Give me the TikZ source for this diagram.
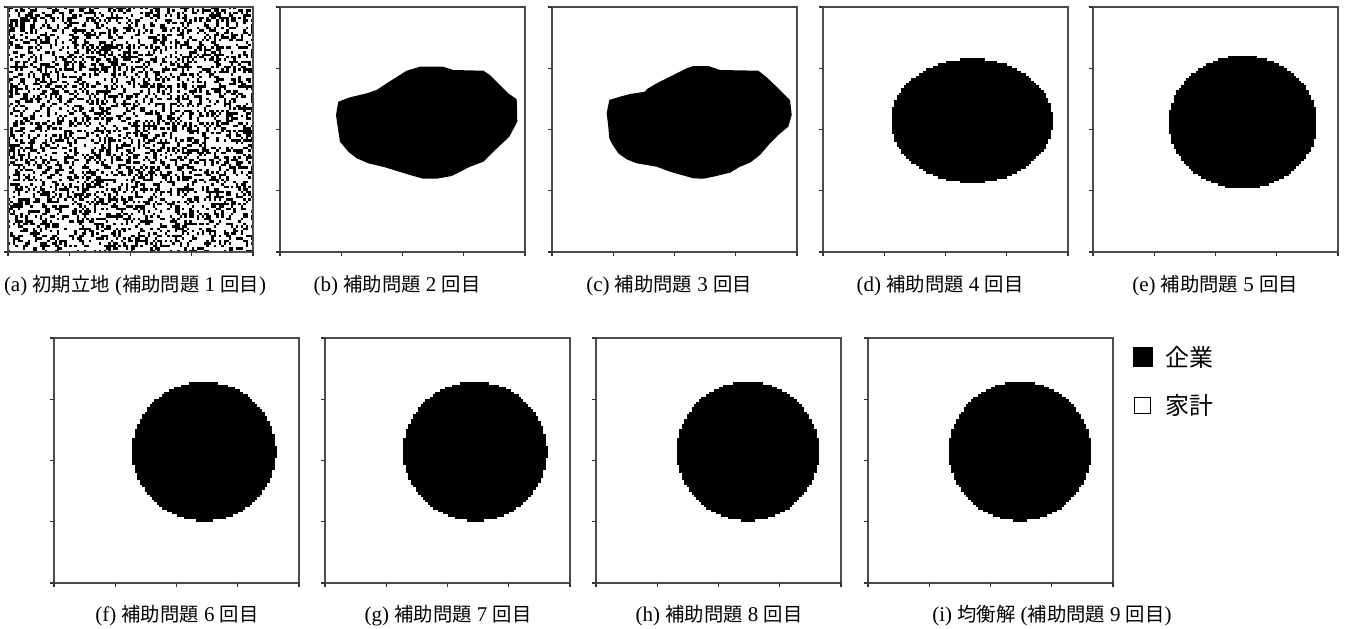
\documentclass[tikz,border=0pt]{standalone}
\usepackage{fontspec}
\setmainfont{Liberation Serif}
\newfontfamily\jp{Noto Sans CJK JP}[Scale=0.92]
\usetikzlibrary{positioning}

\begin{document}
\begin{tikzpicture}[x=0.5pt, y=-0.5pt,
      frm/.style={draw=black!70, line width=0.6pt},
      tck/.style={draw=black!80, line width=0.7pt},
      captext/.style={font=\fontsize{10.5}{12}\selectfont, inner sep=0pt, anchor=base},
      keybox/.style={draw=black, line width=0.4pt, inner sep=0pt},
      keylab/.style={font=\fontsize{13}{15}\selectfont\jp, inner sep=0pt},
  ]
  \useasboundingbox (0,0) rectangle (1346,628);

  % ---- (a) initial locations: random cells ----
  \pgfmathsetseed{2718}
  \foreach \rj in {0,...,99}{
    \foreach \ci in {0,...,99}{
      \pgfmathtruncatemacro\hit{rnd<0.36}
      \ifnum\hit=1
        \fill (8+\ci*2.45, 7+\rj*2.45) rectangle ++(2.45,2.45);
      \fi
    }
  }

  % ---- (b), (c) irregular clusters ----
  \fill[shift={(280,7)}] (58.3,94.7) -- (70,90.3) -- (86.7,86.3) -- (96.7,83)
    -- (106.7,76.3) -- (126.7,63.7) -- (140,59.7) -- (163.3,59.7) -- (173.3,63)
    -- (203.3,63.7) -- (210,68) -- (228.3,86.3) -- (236.7,92.3) -- (237.3,114.7)
    -- (229.3,129.7) -- (211.7,146.3) -- (203.3,154.7) -- (190,159.7)
    -- (171.7,169) -- (156.7,171.7) -- (143.3,171.7) -- (130,168) -- (105,160.3)
    -- (88.3,156.3) -- (76.7,151.3) -- (68.3,144.7) -- (60,134.7)
    -- (57.7,119.7) -- (56,108) -- cycle;
  \fill[shift={(552,7)}] (57.3,93) -- (68,89.7) -- (78,87) -- (93,84.7)
    -- (94.7,82.3) -- (104.7,76.3) -- (114.7,71.3) -- (124.7,66.3) -- (134.7,61.3)
    -- (141.3,59) -- (156.3,59) -- (168,63) -- (206.3,63.7) -- (214.7,70.3)
    -- (228,83) -- (238,93) -- (239.7,108) -- (236.3,119.7) -- (226.3,128)
    -- (218,136.3) -- (208,148) -- (198,155.7) -- (188,159.7) -- (178,165.7)
    -- (161.3,169.7) -- (151.3,171.7) -- (141.3,171.3) -- (129.7,168)
    -- (118,164.7) -- (104.7,159.7) -- (84.7,156.3) -- (74.7,152.3)
    -- (66.3,146.3) -- (59.7,136.3) -- (57.3,131.3) -- (56.3,119.7)
    -- (54.7,106.3) -- cycle;

  % ---- (d)--(i) round clusters, cell by cell ----
  \foreach \px/\py/\cx/\cy/\rx/\ry in {
        823/7/60.8/46.5/33/25.3, 1093/7/61.2/47.1/30.2/27.1,
        54/338/61.3/46.3/29.3/28.4, 325/338/61.3/46.3/29.3/28.4,
        596/338/62.0/46.3/29.0/28.4, 868/338/62.0/46.3/29.0/28.4}{
    \foreach \j in {0,...,99}{
      \pgfmathsetmacro\dv{(\j+0.5-\cy)/\ry}
      \pgfmathtruncatemacro\inside{abs(\dv)<1}
      \ifnum\inside=1
        \pgfmathsetmacro\hw{\rx*sqrt(1-\dv*\dv)}
        \pgfmathtruncatemacro\ca{round(\cx-\hw)}
        \pgfmathtruncatemacro\cb{round(\cx+\hw)}
        \fill (\px+\ca*2.45, \py+\j*2.45) rectangle (\px+\cb*2.45, \py+\j*2.45+2.45);
      \fi
    }
  }

  % ---- frames and ticks ----
  \foreach \px/\py in {8/7, 280/7, 552/7, 823/7, 1093/7,
                       54/338, 325/338, 596/338, 868/338}{
    \draw[frm] (\px,\py) rectangle ++(245,245);
    \foreach \k in {0,...,4}{
      \draw[tck] (\px,\py+\k*61.25) -- ++(-4,0);
      \draw[tck] (\px+\k*61.25,\py+245) -- ++(0,4);
    }
  }

  % ---- captions ----
  \node[captext] (capa) at (135,291) {(a) {\jp 初期立地} ({\jp 補助問題} 1 {\jp 回目})};
  \foreach \n/\x/\y/\k in {b/397/291/2, c/669/291/3, d/940/291/4, e/1215/291/5,
                           f/177/621/6, g/448/621/7, h/719/621/8}{
    \node[captext] (cap\n) at (\x,\y) {(\n) {\jp 補助問題} \k{} {\jp 回目}};
  }
  \node[captext] (capi) at (1052,621) {(i) {\jp 均衡解} ({\jp 補助問題} 9 {\jp 回目})};

  % ---- legend ----
  \node[keybox, fill=black, minimum size=9.5pt] (firmkey) at (1142.5,357) {};
  \node[keylab, right=6.5pt of firmkey] (firmlab) {企業};
  \node[keybox, fill=white, minimum size=8pt] (hhkey) at (1142.5,405) {};
  \node[keylab, right=7pt of hhkey] (hhlab) {家計};

\end{tikzpicture}
\end{document}
